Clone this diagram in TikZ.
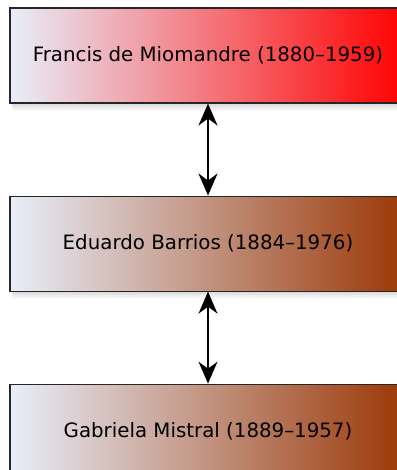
\documentclass[tikz,border=0pt]{standalone}
\usepackage{fontspec}
\setmainfont{DejaVu Sans}
\usetikzlibrary{positioning,arrows.meta,shadows}
\definecolor{paleblue}{RGB}{232, 238, 250}
\definecolor{brightred}{RGB}{255, 0, 0}
\definecolor{rustbrown}{RGB}{155, 55, 5}

\begin{document}
\begin{tikzpicture}[
    x=1pt, y=-1pt,
    font=\fontsize{19.8}{23}\selectfont,
    node distance=92pt,
    person/.style={
        draw=black!85,
        line width=1.1pt,
        minimum width=396pt,
        minimum height=95pt,
        inner sep=0pt,
        shading angle=80,
        drop shadow={opacity=0.10, shadow xshift=1pt, shadow yshift=-2pt},
        drop shadow={opacity=0.10, shadow xshift=1.5pt, shadow yshift=-4pt},
        drop shadow={opacity=0.08, shadow xshift=2pt, shadow yshift=-6pt},
        drop shadow={opacity=0.06, shadow xshift=2.5pt, shadow yshift=-8pt}
    },
    redbox/.style={person, left color=paleblue, right color=brightred},
    brownbox/.style={person, left color=paleblue, right color=rustbrown},
    link/.style={{Stealth[length=22pt, width=19pt, inset=7pt]}-{Stealth[length=22pt, width=19pt, inset=7pt]},
        line width=1.6pt, draw=black}
]
    \useasboundingbox (0,0) rectangle (396,470);

    % Persons
    \node[redbox] (miomandre) at (208,55.5) {Francis de Miomandre (1880–1959)};
    \node[brownbox, below=of miomandre] (barrios) {Eduardo Barrios (1884–1976)};
    \node[brownbox, below=of barrios] (mistral) {Gabriela Mistral (1889–1957)};

    % Connections
    \draw[link] (miomandre) -- (barrios);
    \draw[link] (barrios) -- (mistral);

\end{tikzpicture}
\end{document}
